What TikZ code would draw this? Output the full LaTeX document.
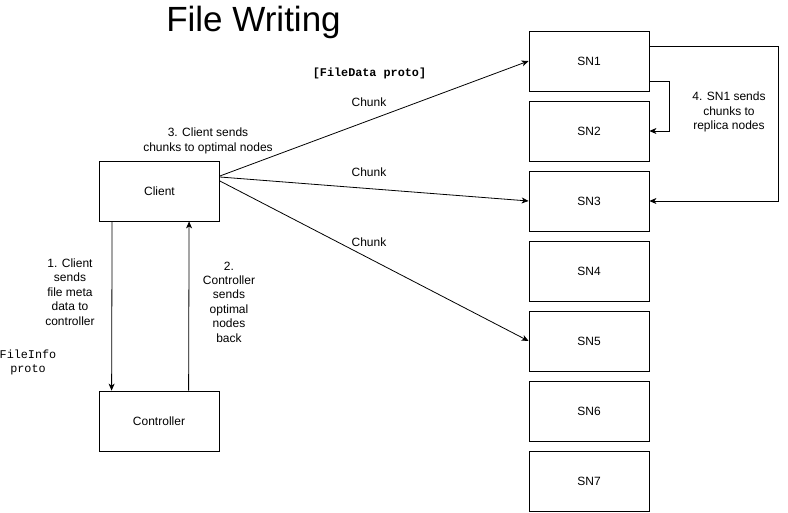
\documentclass[tikz,border=0pt]{standalone}
\usepackage{fontspec}
\setmainfont{Liberation Sans}
\newfontfamily\monofont{Liberation Mono}
\usetikzlibrary{arrows.meta,positioning,calc}
\begin{document}
\begin{tikzpicture}[x=1pt,y=-1pt,
  box/.style={draw,line width=0.8pt,minimum width=120pt,minimum height=60pt,inner sep=0pt,font=\fontsize{12}{14}\selectfont},
  lbl/.style={align=center,inner sep=0pt,font=\fontsize{12}{14.4}\selectfont},
  arr/.style={line width=0.8pt,-{Stealth[length=7pt,width=6pt,inset=2pt]}}
]
\useasboundingbox (0,0) rectangle (788,512);
\node[inner sep=0pt,font=\fontsize{35}{40}\selectfont] (title) at (253.5,22) {File Writing};
\node[box] (client) at (159.5,191) {Client};
\node[box] (controller) at (159,421) {Controller};
\node[box] (sn1) at (589,61) {SN1};
\node[box] (sn2) at (589,131) {SN2};
\node[box] (sn3) at (589,201) {SN3};
\node[box] (sn4) at (589,271) {SN4};
\node[box] (sn5) at (589,341) {SN5};
\node[box] (sn6) at (589,411) {SN6};
\node[box] (sn7) at (589,481) {SN7};

\node[inner sep=0pt,font=\monofont\bfseries\fontsize{11.8}{14}\selectfont] (fdp) at (369.5,73) {[FileData proto]};
\node[lbl] (ch1) at (369,102) {Chunk};
\node[lbl] (ch2) at (369,172) {Chunk};
\node[lbl] (ch3) at (369,242) {Chunk};
\node[lbl] (l3) at (208,141) {3. Client sends\\chunks to optimal nodes};
\node[lbl] (l1) at (70,292) {1. Client\\sends\\file meta\\data to\\controller};
\node[lbl] (l2) at (229,302) {2.\\Controller\\sends\\optimal\\nodes\\back};
\node[align=center,inner sep=0pt,font=\monofont\fontsize{11.8}{14}\selectfont] (fip) at (28,362) {FileInfo\\proto};
\node[lbl] (l4) at (729,112) {4. SN1 sends\\chunks to\\replica nodes};

\coordinate (c1) at ([yshift=15pt]client.east);
\coordinate (c2) at ([yshift=14pt]client.east);
\coordinate (c3) at ([yshift=10pt]client.east);
\draw[arr] (c1) -- (sn1.west);
\draw[arr] (c2) -- (sn3.west);
\draw[arr] (c3) -- (sn5.west);

\draw[arr] ([xshift=13pt]client.south west) -- ([xshift=13pt]controller.north west);
\draw[arr] ([xshift=90pt]controller.north west) -- ([xshift=90pt]client.south west);

\draw[arr] ([yshift=-20pt]sn1.east) -| ++(20,0) |- (sn2.east);
\draw[arr] ([yshift=15pt]sn1.east) -- ++(129,0) |- (sn3.east);
\end{tikzpicture}
\end{document}
